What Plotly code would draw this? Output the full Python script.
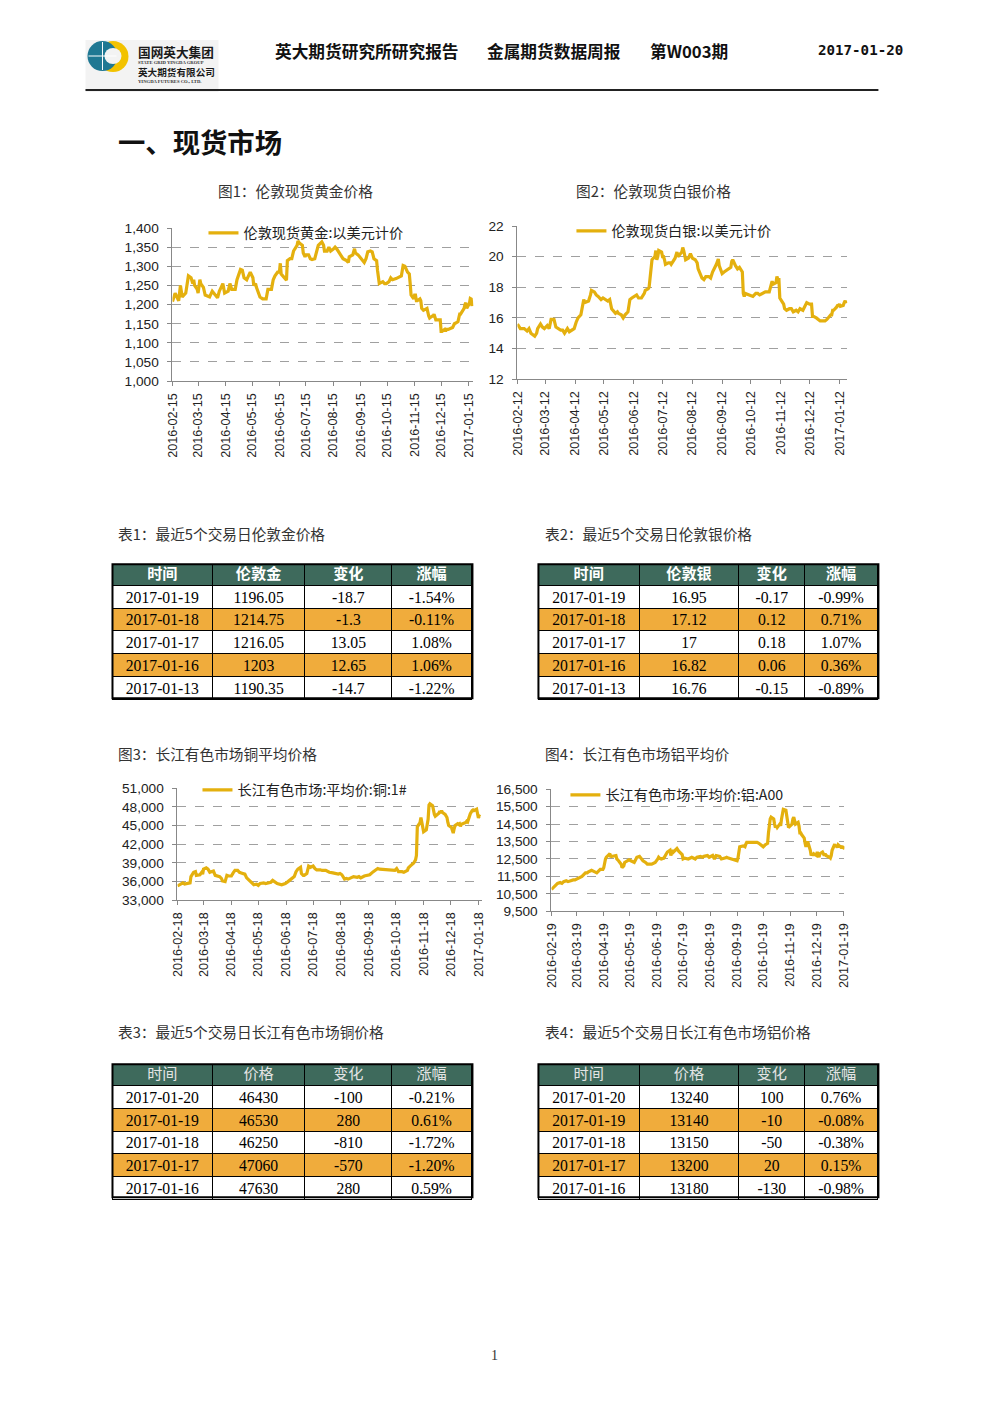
import plotly.graph_objects as go

W, H = 992, 1403

# ---------------- data ----------------
gold = [("2016-02-15",1208),("2016-02-18",1230),("2016-02-22",1210),("2016-02-24",1250),("2016-02-26",1220),
("2016-03-01",1230),("2016-03-04",1275),("2016-03-07",1270),("2016-03-09",1255),("2016-03-10",1265),("2016-03-11",1250),
("2016-03-14",1240),("2016-03-15",1230),("2016-03-17",1265),("2016-03-18",1255),("2016-03-21",1245),("2016-03-23",1225),
("2016-03-28",1220),("2016-03-31",1235),("2016-04-04",1225),("2016-04-06",1218),("2016-04-08",1235),("2016-04-12",1255),
("2016-04-14",1230),("2016-04-18",1235),("2016-04-20",1255),("2016-04-22",1240),("2016-04-26",1240),("2016-04-28",1265),
("2016-05-02",1292),("2016-05-04",1290),("2016-05-06",1270),("2016-05-09",1265),("2016-05-11",1275),("2016-05-13",1285),
("2016-05-16",1270),("2016-05-17",1250),("2016-05-19",1255),("2016-05-20",1245),("2016-05-24",1220),("2016-05-27",1215),
("2016-05-31",1215),("2016-06-02",1240),("2016-06-06",1240),("2016-06-08",1265),("2016-06-10",1275),("2016-06-13",1285),
("2016-06-15",1285),("2016-06-16",1308),("2016-06-17",1280),("2016-06-21",1270),("2016-06-23",1264),("2016-06-24",1315),
("2016-06-27",1320),("2016-06-29",1320),("2016-07-01",1340),("2016-07-05",1355),("2016-07-06",1366),("2016-07-08",1360),
("2016-07-11",1355),("2016-07-12",1335),("2016-07-14",1325),("2016-07-15",1330),("2016-07-18",1330),("2016-07-20",1320),
("2016-07-22",1318),("2016-07-25",1320),("2016-07-27",1340),("2016-07-29",1355),("2016-08-02",1364),("2016-08-04",1355),
("2016-08-05",1340),("2016-08-08",1340),("2016-08-10",1350),("2016-08-12",1340),("2016-08-15",1345),("2016-08-17",1350),
("2016-08-19",1345),("2016-08-22",1335),("2016-08-24",1330),("2016-08-26",1320),("2016-08-30",1315),("2016-09-01",1310),
("2016-09-02",1325),("2016-09-06",1330),("2016-09-08",1346),("2016-09-09",1335),("2016-09-12",1330),("2016-09-15",1320),
("2016-09-19",1310),("2016-09-21",1320),("2016-09-23",1338),("2016-09-26",1340),("2016-09-28",1338),("2016-09-30",1320),
("2016-10-03",1315),("2016-10-04",1290),("2016-10-05",1265),("2016-10-06",1255),("2016-10-10",1260),("2016-10-12",1255),
("2016-10-14",1255),("2016-10-17",1260),("2016-10-19",1270),("2016-10-21",1265),("2016-10-25",1268),("2016-10-27",1270),
("2016-10-31",1275),("2016-11-02",1302),("2016-11-04",1300),("2016-11-07",1285),("2016-11-09",1280),("2016-11-10",1255),
("2016-11-11",1225),("2016-11-14",1215),("2016-11-15",1225),("2016-11-16",1225),("2016-11-17",1210),("2016-11-18",1210),
("2016-11-21",1215),("2016-11-22",1210),("2016-11-23",1190),("2016-11-25",1185),("2016-11-28",1190),("2016-11-29",1190),
("2016-12-01",1170),("2016-12-02",1165),("2016-12-05",1170),("2016-12-06",1170),("2016-12-07",1175),("2016-12-08",1165),
("2016-12-09",1160),("2016-12-12",1160),("2016-12-14",1160),("2016-12-15",1130),("2016-12-16",1130),("2016-12-19",1135),
("2016-12-20",1130),("2016-12-21",1135),("2016-12-23",1135),("2016-12-28",1140),("2016-12-30",1150),("2017-01-03",1155),
("2017-01-04",1165),("2017-01-05",1175),("2017-01-06",1175),("2017-01-09",1185),("2017-01-10",1190),("2017-01-11",1200),
("2017-01-12",1205),("2017-01-13",1190.35),("2017-01-16",1203),("2017-01-17",1216.05),("2017-01-18",1214.75),("2017-01-19",1196.05)]

silver = [("2016-02-12",15.6),("2016-02-15",15.3),("2016-02-17",15.3),("2016-02-19",15.3),("2016-02-22",15.15),("2016-02-24",15.3),
("2016-02-26",15.0),("2016-03-01",14.8),("2016-03-03",15.0),("2016-03-04",15.3),("2016-03-07",15.6),("2016-03-09",15.4),
("2016-03-11",15.3),("2016-03-14",15.5),("2016-03-16",15.3),("2016-03-17",15.8),("2016-03-18",15.9),("2016-03-21",15.9),
("2016-03-23",15.4),("2016-03-28",15.2),("2016-03-30",15.2),("2016-04-01",15.0),("2016-04-04",15.3),("2016-04-06",15.1),
("2016-04-08",15.2),("2016-04-11",15.3),("2016-04-13",15.7),("2016-04-15",16.0),("2016-04-18",16.2),("2016-04-20",16.8),
("2016-04-21",17.2),("2016-04-22",17.0),("2016-04-26",17.1),("2016-04-28",17.5),("2016-04-29",17.8),("2016-05-02",17.7),
("2016-05-04",17.5),("2016-05-06",17.4),("2016-05-09",17.2),("2016-05-11",17.3),("2016-05-13",17.2),("2016-05-16",17.1),
("2016-05-18",17.2),("2016-05-20",16.6),("2016-05-24",16.3),("2016-05-26",16.4),("2016-05-27",16.3),("2016-05-30",16.2),
("2016-06-01",16.0),("2016-06-03",16.2),("2016-06-06",16.4),("2016-06-08",17.2),("2016-06-10",17.3),("2016-06-13",17.4),
("2016-06-15",17.5),("2016-06-17",17.3),("2016-06-20",17.3),("2016-06-22",17.5),("2016-06-23",17.6),("2016-06-24",17.8),
("2016-06-27",17.9),("2016-06-28",18.0),("2016-06-29",18.5),("2016-07-01",19.8),("2016-07-04",20.0),("2016-07-05",20.4),
("2016-07-06",19.8),("2016-07-07",20.0),("2016-07-08",20.4),("2016-07-11",20.3),("2016-07-12",20.0),("2016-07-13",20.0),
("2016-07-14",19.8),("2016-07-15",19.5),("2016-07-18",19.6),("2016-07-20",19.6),("2016-07-21",19.5),("2016-07-22",19.6),
("2016-07-25",19.9),("2016-07-27",20.3),("2016-07-28",20.0),("2016-08-01",20.3),("2016-08-02",20.6),("2016-08-03",20.4),
("2016-08-05",19.8),("2016-08-08",19.9),("2016-08-10",20.2),("2016-08-12",19.9),("2016-08-15",19.8),("2016-08-17",19.6),
("2016-08-18",19.2),("2016-08-22",18.6),("2016-08-24",18.5),("2016-08-26",18.7),("2016-08-29",18.7),("2016-08-31",18.6),
("2016-09-02",19.0),("2016-09-06",19.5),("2016-09-08",19.85),("2016-09-09",19.4),("2016-09-12",18.9),("2016-09-14",19.0),
("2016-09-16",19.1),("2016-09-19",19.2),("2016-09-21",19.3),("2016-09-22",19.7),("2016-09-23",19.8),("2016-09-26",19.4),
("2016-09-28",19.2),("2016-09-30",19.3),("2016-10-03",19.0),("2016-10-04",17.6),("2016-10-05",17.4),("2016-10-06",17.6),
("2016-10-10",17.5),("2016-10-12",17.5),("2016-10-14",17.4),("2016-10-17",17.6),("2016-10-19",17.6),("2016-10-21",17.5),
("2016-10-25",17.6),("2016-10-27",17.7),("2016-10-31",17.7),("2016-11-01",18.0),("2016-11-02",18.3),("2016-11-03",18.4),
("2016-11-04",18.2),("2016-11-07",18.3),("2016-11-08",18.7),("2016-11-09",18.5),("2016-11-10",18.6),("2016-11-11",17.3),
("2016-11-14",17.0),("2016-11-15",16.9),("2016-11-16",16.6),("2016-11-18",16.5),("2016-11-21",16.6),("2016-11-23",16.6),
("2016-11-25",16.4),("2016-11-28",16.5),("2016-11-30",16.4),("2016-12-02",16.6),("2016-12-05",16.5),("2016-12-07",16.8),
("2016-12-09",17.0),("2016-12-12",16.9),("2016-12-14",16.9),("2016-12-15",16.1),("2016-12-16",16.1),("2016-12-19",16.0),
("2016-12-21",15.9),("2016-12-23",15.8),("2016-12-28",15.8),("2016-12-30",15.9),("2017-01-03",16.2),("2017-01-04",16.2),
("2017-01-05",16.5),("2017-01-06",16.5),("2017-01-09",16.7),("2017-01-10",16.8),("2017-01-11",16.8),("2017-01-12",16.9),
("2017-01-13",16.76),("2017-01-16",16.82),("2017-01-17",17.0),("2017-01-18",17.12),("2017-01-19",16.95)]

copper = [("2016-02-18",35300),("2016-02-22",35700),("2016-02-24",35800),("2016-02-26",35600),("2016-03-01",35700),
("2016-03-03",35800),("2016-03-04",36800),("2016-03-07",37500),("2016-03-09",37600),("2016-03-10",37000),("2016-03-14",37100),
("2016-03-16",37500),("2016-03-17",37200),("2016-03-18",38000),("2016-03-21",38200),("2016-03-23",38000),("2016-03-25",37500),
("2016-03-29",37700),("2016-03-31",37000),("2016-04-05",36800),("2016-04-07",36500),("2016-04-08",36100),("2016-04-11",36000),
("2016-04-13",37000),("2016-04-15",36900),("2016-04-18",36900),("2016-04-20",37400),("2016-04-22",37800),("2016-04-25",37800),
("2016-04-27",37500),("2016-04-29",37400),("2016-05-03",37200),("2016-05-05",36600),("2016-05-09",36000),("2016-05-11",35800),
("2016-05-13",35500),("2016-05-16",35600),("2016-05-18",35400),("2016-05-20",35700),("2016-05-24",35800),("2016-05-26",35700),
("2016-05-30",35800),("2016-06-01",35900),("2016-06-03",36200),("2016-06-06",35800),("2016-06-08",35700),("2016-06-13",35500),
("2016-06-15",35600),("2016-06-17",35700),("2016-06-20",36000),("2016-06-22",36200),("2016-06-24",36500),("2016-06-27",36800),
("2016-06-29",37600),("2016-07-01",38000),("2016-07-04",38300),("2016-07-05",37300),("2016-07-07",37000),("2016-07-08",37000),
("2016-07-11",37300),("2016-07-12",38200),("2016-07-13",38500),("2016-07-15",38300),("2016-07-18",38500),("2016-07-20",38100),
("2016-07-22",37900),("2016-07-26",37900),("2016-07-28",37800),("2016-08-01",37800),("2016-08-03",37600),("2016-08-05",37500),
("2016-08-09",37400),("2016-08-11",37300),("2016-08-15",37200),("2016-08-17",37300),("2016-08-19",37100),("2016-08-22",36400),
("2016-08-24",36500),("2016-08-26",36400),("2016-08-30",36700),("2016-09-01",36800),("2016-09-05",36700),("2016-09-07",36800),
("2016-09-09",36600),("2016-09-13",36900),("2016-09-19",37100),("2016-09-21",37400),("2016-09-23",37600),("2016-09-26",37900),
("2016-09-28",38100),("2016-09-30",38000),("2016-10-10",37900),("2016-10-12",37800),("2016-10-14",37800),("2016-10-17",37800),
("2016-10-19",38100),("2016-10-21",37600),("2016-10-25",37600),("2016-10-27",37500),("2016-10-31",37800),("2016-11-01",38200),
("2016-11-03",38500),("2016-11-07",39000),("2016-11-09",39500),("2016-11-10",40200),("2016-11-11",44800),("2016-11-14",45500),
("2016-11-15",46300),("2016-11-16",45500),("2016-11-17",44200),("2016-11-18",44000),("2016-11-21",44300),("2016-11-22",45500),
("2016-11-23",46000),("2016-11-24",48300),("2016-11-25",48500),("2016-11-28",48200),("2016-11-29",47000),("2016-11-30",46800),
("2016-12-01",46500),("2016-12-02",46600),("2016-12-05",47000),("2016-12-06",47300),("2016-12-07",47000),("2016-12-08",47400),
("2016-12-09",47100),("2016-12-12",46800),("2016-12-13",46500),("2016-12-14",46300),("2016-12-15",45500),("2016-12-16",45000),
("2016-12-19",44700),("2016-12-20",44300),("2016-12-21",43800),("2016-12-22",44500),("2016-12-23",45000),("2016-12-26",45300),
("2016-12-27",45200),("2016-12-28",45300),("2016-12-29",44900),("2016-12-30",45200),("2017-01-03",45400),("2017-01-04",45500),
("2017-01-05",45700),("2017-01-06",45600),("2017-01-09",46900),("2017-01-10",47300),("2017-01-11",47400),("2017-01-12",47500),
("2017-01-13",47400),("2017-01-16",47630),("2017-01-17",47060),("2017-01-18",46250),("2017-01-19",46530),("2017-01-20",46430)]

aluminum = [("2016-02-19",10750),("2016-02-22",10900),("2016-02-24",11000),("2016-02-26",11100),("2016-02-29",11150),
("2016-03-02",11100),("2016-03-04",11200),("2016-03-07",11250),("2016-03-09",11200),("2016-03-11",11250),("2016-03-15",11300),
("2016-03-17",11300),("2016-03-21",11400),("2016-03-23",11450),("2016-03-25",11500),("2016-03-29",11700),("2016-03-31",11700),
("2016-04-01",11750),("2016-04-05",11850),("2016-04-07",11800),("2016-04-11",11700),("2016-04-13",11800),("2016-04-15",11900),
("2016-04-18",11900),("2016-04-19",12000),("2016-04-21",12500),("2016-04-22",12600),("2016-04-25",12750),("2016-04-26",12800),
("2016-04-27",12600),("2016-04-28",12650),("2016-05-03",12700),("2016-05-04",12500),("2016-05-06",12400),("2016-05-09",12200),
("2016-05-10",12000),("2016-05-12",12100),("2016-05-13",12300),("2016-05-16",12400),("2016-05-18",12450),("2016-05-20",12400),
("2016-05-24",12300),("2016-05-26",12500),("2016-05-27",12600),("2016-05-30",12650),("2016-06-01",12500),("2016-06-03",12400),
("2016-06-06",12300),("2016-06-08",12200),("2016-06-13",12200),("2016-06-15",12250),("2016-06-17",12300),("2016-06-20",12500),
("2016-06-21",12600),("2016-06-22",12550),("2016-06-24",12500),("2016-06-27",12550),("2016-06-29",12700),("2016-07-01",12900),
("2016-07-04",13000),("2016-07-05",12700),("2016-07-06",12900),("2016-07-07",13000),("2016-07-08",12900),("2016-07-11",13050),
("2016-07-12",13100),("2016-07-14",12950),("2016-07-15",12900),("2016-07-18",12750),("2016-07-19",12500),("2016-07-21",12550),
("2016-07-25",12500),("2016-07-27",12550),("2016-07-29",12600),("2016-08-02",12500),("2016-08-04",12600),("2016-08-08",12650),
("2016-08-10",12600),("2016-08-12",12650),("2016-08-16",12700),("2016-08-18",12600),("2016-08-22",12700),("2016-08-24",12500),
("2016-08-26",12700),("2016-08-30",12650),("2016-09-01",12500),("2016-09-05",12550),("2016-09-07",12600),("2016-09-09",12550),
("2016-09-13",12500),("2016-09-19",12400),("2016-09-20",12550),("2016-09-21",12800),("2016-09-22",13200),("2016-09-26",13250),
("2016-09-28",13200),("2016-09-29",13350),("2016-09-30",13450),("2016-10-10",13450),("2016-10-12",13450),("2016-10-14",13400),
("2016-10-17",13300),("2016-10-19",13200),("2016-10-21",13300),("2016-10-24",13400),("2016-10-25",14000),("2016-10-26",14600),
("2016-10-27",14800),("2016-10-28",14900),("2016-10-31",14800),("2016-11-01",14500),("2016-11-02",14300),("2016-11-03",14400),
("2016-11-04",14300),("2016-11-07",14500),("2016-11-08",14400),("2016-11-09",14800),("2016-11-10",15200),("2016-11-11",15350),
("2016-11-14",15300),("2016-11-15",14900),("2016-11-16",14400),("2016-11-17",14300),("2016-11-18",14350),("2016-11-21",14500),
("2016-11-22",14800),("2016-11-23",14900),("2016-11-24",14700),("2016-11-25",14500),("2016-11-28",14600),("2016-11-29",14400),
("2016-11-30",14000),("2016-12-01",14000),("2016-12-02",13900),("2016-12-05",13700),("2016-12-06",13400),("2016-12-07",13200),
("2016-12-08",13400),("2016-12-09",13500),("2016-12-12",13000),("2016-12-13",12700),("2016-12-14",12800),("2016-12-15",12700),
("2016-12-16",12800),("2016-12-19",12700),("2016-12-20",12900),("2016-12-21",12700),("2016-12-22",12600),("2016-12-23",12800),
("2016-12-26",12900),("2016-12-27",12800),("2016-12-28",12700),("2016-12-29",12800),("2016-12-30",12700),("2017-01-03",12600),
("2017-01-04",12550),("2017-01-05",12700),("2017-01-06",13000),("2017-01-09",13350),("2017-01-10",13200),("2017-01-11",13300),
("2017-01-12",13150),("2017-01-13",13310),("2017-01-16",13180),("2017-01-17",13200),("2017-01-18",13150),("2017-01-19",13140),
("2017-01-20",13240)]

tick_months = ["2016-02","2016-03","2016-04","2016-05","2016-06","2016-07","2016-08",
               "2016-09","2016-10","2016-11","2016-12","2017-01"]

series_names = ["伦敦现货黄金:以美元计价", "伦敦现货白银:以美元计价",
                "长江有色市场:平均价:铜:1#", "长江有色市场:平均价:铝:A00"]

t1_head = ["时间", "伦敦金", "变化", "涨幅"]
t1_date = ["2017-01-19", "2017-01-18", "2017-01-17", "2017-01-16", "2017-01-13"]
t1_price = ["1196.05", "1214.75", "1216.05", "1203", "1190.35"]
t1_chg = ["-18.7", "-1.3", "13.05", "12.65", "-14.7"]
t1_pct = ["-1.54%", "-0.11%", "1.08%", "1.06%", "-1.22%"]

t2_head = ["时间", "伦敦银", "变化", "涨幅"]
t2_date = ["2017-01-19", "2017-01-18", "2017-01-17", "2017-01-16", "2017-01-13"]
t2_price = ["16.95", "17.12", "17", "16.82", "16.76"]
t2_chg = ["-0.17", "0.12", "0.18", "0.06", "-0.15"]
t2_pct = ["-0.99%", "0.71%", "1.07%", "0.36%", "-0.89%"]

t3_head = ["时间", "价格", "变化", "涨幅"]
t3_date = ["2017-01-20", "2017-01-19", "2017-01-18", "2017-01-17", "2017-01-16"]
t3_price = ["46430", "46530", "46250", "47060", "47630"]
t3_chg = ["-100", "280", "-810", "-570", "280"]
t3_pct = ["-0.21%", "0.61%", "-1.72%", "-1.20%", "0.59%"]

t4_head = ["时间", "价格", "变化", "涨幅"]
t4_date = ["2017-01-20", "2017-01-19", "2017-01-18", "2017-01-17", "2017-01-16"]
t4_price = ["13240", "13140", "13150", "13200", "13180"]
t4_chg = ["100", "-10", "-50", "20", "-130"]
t4_pct = ["0.76%", "-0.08%", "-0.38%", "0.15%", "-0.98%"]

# ---------------- helpers ----------------
# the photographed page is slightly scaled/offset; compensate so targets land right
SX, OX = 0.987, 6.5
SY, OY = 0.989, 7.0
FS = 1 / 0.988

def px(x):
    return ((x - OX) / SX) / W

def py(y):
    return 1 - ((y - OY) / SY) / H

def f(s):
    return round(s * FS, 2)

LINE = "#E4B00E"
CJK = "Noto Sans CJK SC"
NUM = "Liberation Sans"
SERIF = "Liberation Serif"
CLEAR = "rgba(0,0,0,0)"

fig = go.Figure()

charts = [
    dict(data=gold, day="15", xp=(172, 473), yp=(228, 381), yr=(1000, 1400), dt=50, xend="2017-01-20 14:00", lg=(203, 233)),
    dict(data=silver, day="12", xp=(517, 847), yp=(226, 379), yr=(12, 22), dt=2, xend="2017-01-20 08:00", lg=(571, 231)),
    dict(data=copper, day="18", xp=(177, 482), yp=(788, 900), yr=(33000, 51000), dt=3000, xend="2017-01-22 12:00", lg=(197, 790)),
    dict(data=aluminum, day="19", xp=(551, 844), yp=(789, 911), yr=(9500, 16500), dt=1000, xend="2017-01-20 03:00", lg=(565, 795)),
]

for i, c in enumerate(charts):
    n = "" if i == 0 else str(i + 1)
    dates = [d for d, v in c["data"]]
    vals = [v for d, v in c["data"]]
    fig.add_trace(go.Scatter(
        x=dates, y=vals, mode="lines", name=series_names[i],
        line=dict(color=LINE, width=3.2), xaxis="x" + n, yaxis="y" + n,
        legend="legend" + n, showlegend=True, hoverinfo="skip"))
    ticks = [m + "-" + c["day"] for m in tick_months]
    fig.update_layout(**{
        "xaxis" + n: dict(
            domain=[px(c["xp"][0]), px(c["xp"][1])], anchor="y" + n, type="date",
            range=[dates[0], c["xend"]], tickvals=ticks, tickformat="%Y-%m-%d",
            tickangle=-90, ticks="outside", ticklen=4, tickcolor="#888",
            showline=True, linecolor="#888", linewidth=1, showgrid=False,
            ticklabelstandoff=2,
            tickfont=dict(family=NUM, size=f(12.5), color="#222")),
        "yaxis" + n: dict(
            domain=[py(c["yp"][1]), py(c["yp"][0])], anchor="x" + n,
            range=list(c["yr"]), dtick=c["dt"], tick0=c["yr"][0], tickformat=",d",
            ticks="outside", ticklen=4, tickcolor="#888",
            showline=True, linecolor="#888", linewidth=1,
            showgrid=True, gridcolor="#a0a0a0", griddash="dash", gridwidth=1,
            ticklabelstandoff=6,
            zeroline=False, tickfont=dict(family=NUM, size=f(13.5), color="#222")),
        "legend" + n: dict(
            x=px(c["lg"][0]), y=py(c["lg"][1]), xanchor="left", yanchor="middle",
            bgcolor="rgba(0,0,0,0)", borderwidth=0,
            font=dict(family=CJK, size=f(14), color="#222"),
            itemwidth=30, tracegroupgap=0),
    })

# ---------------- tables ----------------
ORANGE = "#F0AC3C"
GREEN = "#3E6A5C"
row_fill = ["white", ORANGE, "white", ORANGE, "white"]
HEAD_H, ROW_H = 21, 22.5
HEAD_UP, CELL_UP = 4.5, 2.5   # lift text to centre it vertically

tables = [
    (t1_head, [t1_date, t1_price, t1_chg, t1_pct], (112, 472), (564, 698), True),
    (t2_head, [t2_date, t2_price, t2_chg, t2_pct], (538, 878), (564, 698), True),
    (t3_head, [t3_date, t3_price, t3_chg, t3_pct], (112, 472), (1064, 1197), False),
    (t4_head, [t4_date, t4_price, t4_chg, t4_pct], (538, 878), (1064, 1197), False),
]
for head, cols, xr, yr, bold in tables:
    if bold:
        hfont = dict(family=CJK, size=f(15), color="white", weight="bold")
    else:
        hfont = dict(family=CJK, size=f(15), color="#e4e4e4")
    cfont = dict(family=SERIF, size=f(15.5), color="black")
    if xr[0] < 300:
        cw = [100, 93, 87, 80]
    else:
        cw = [101, 100, 66, 73]
    # fills and rules only (blank cells of the same shape)
    fig.add_trace(go.Table(
        domain=dict(x=[px(xr[0]), px(xr[1])], y=[py(yr[1] + 8), py(yr[0])]),
        columnwidth=cw,
        header=dict(values=["" for _ in head], fill_color=GREEN, height=HEAD_H / SY,
                    font=hfont, line=dict(color="black", width=1)),
        cells=dict(values=[["" for _ in col] for col in cols], fill_color=[row_fill] * 4,
                   height=ROW_H / SY, font=cfont, line=dict(color="black", width=1)),
    ))
    # text layer, lifted slightly so the labels sit centred in their rows
    fig.add_trace(go.Table(
        domain=dict(x=[px(xr[0]), px(xr[1])], y=[py(yr[1] + 8), py(yr[0] - HEAD_UP)]),
        columnwidth=cw,
        header=dict(values=head, fill_color=CLEAR, align="center",
                    height=(HEAD_H + HEAD_UP - CELL_UP) / SY,
                    font=hfont, line=dict(color=CLEAR, width=0)),
        cells=dict(values=cols, fill_color=CLEAR, align="center", height=ROW_H / SY,
                   font=cfont, line=dict(color=CLEAR, width=0)),
    ))

shapes = []
for head, cols, xr, yr, bold in tables:
    shapes.append(dict(type="rect", xref="paper", yref="paper",
                       x0=px(xr[0]), x1=px(xr[1]), y0=py(yr[1]), y1=py(yr[0]),
                       line=dict(color="black", width=2)))

# header rule and logo
shapes.append(dict(type="line", xref="paper", yref="paper", x0=px(85), x1=px(878),
                   y0=py(90), y1=py(90), line=dict(color="#222", width=2)))
shapes.append(dict(type="rect", xref="paper", yref="paper", x0=px(85), x1=px(218),
                   y0=py(92), y1=py(40), line=dict(width=0), fillcolor="#f3f3f3", layer="below"))
shapes.append(dict(type="circle", xref="paper", yref="paper", x0=px(97), x1=px(128),
                   y0=py(72), y1=py(41), line=dict(width=0), fillcolor="#F2C200"))
shapes.append(dict(type="circle", xref="paper", yref="paper", x0=px(87), x1=px(117),
                   y0=py(71), y1=py(41), line=dict(width=0), fillcolor="#1F7893"))
shapes.append(dict(type="circle", xref="paper", yref="paper", x0=px(104), x1=px(121),
                   y0=py(64), y1=py(48), line=dict(width=0), fillcolor="#f3f3f3"))
shapes.append(dict(type="line", xref="paper", yref="paper", x0=px(88), x1=px(116),
                   y0=py(56), y1=py(56), line=dict(color="white", width=1)))
shapes.append(dict(type="line", xref="paper", yref="paper", x0=px(102), x1=px(102),
                   y0=py(42), y1=py(70), line=dict(color="white", width=1)))

ann = []
def text(x, y, s, size, color="#222", family=CJK, anchor="left", bold=False):
    if bold:
        s = "<b>" + s + "</b>"
    ann.append(dict(x=px(x), y=py(y), xref="paper", yref="paper", text=s, showarrow=False,
                    xanchor=anchor, yanchor="middle",
                    font=dict(family=family, size=f(size), color=color)))

text(136, 51, "国网英大集团", 12.5, "#1a1a1a", bold=True)
text(136, 62, "STATE GRID YINGDA GROUP", 4.6, "#333", family="Liberation Serif", bold=True)
text(136, 72, "英大期货有限公司", 9.5, "#1a1a1a", bold=True)
text(136, 81, "YINGDA FUTURES CO., LTD.", 4.6, "#333", family="Liberation Serif", bold=True)

text(273, 51, "英大期货研究所研究报告", 16.5, "#111", bold=True)
text(485, 51, "金属期货数据周报", 16.5, "#111", bold=True)
text(648, 51, "第W003期", 16.5, "#111", bold=True)
text(905, 50, "2017-01-20", 14, "#111", family="DejaVu Sans Mono", anchor="right", bold=True)

text(116, 141, "一、现货市场", 27, "#111", bold=True)

text(216, 190, "图1：伦敦现货黄金价格", 14.5, "#333")
text(574, 190, "图2：伦敦现货白银价格", 14.5, "#333")
text(116, 533, "表1：最近5个交易日伦敦金价格", 14.5, "#333")
text(543, 533, "表2：最近5个交易日伦敦银价格", 14.5, "#333")
text(116, 753, "图3：长江有色市场铜平均价格", 14.5, "#333")
text(543, 753, "图4：长江有色市场铝平均价", 14.5, "#333")
text(116, 1031, "表3：最近5个交易日长江有色市场铜价格", 14.5, "#333")
text(543, 1031, "表4：最近5个交易日长江有色市场铝价格", 14.5, "#333")
text(494, 1355, "1", 14, "#333", family=SERIF, anchor="center")

fig.update_layout(
    width=W, height=H, margin=dict(l=0, r=0, t=0, b=0),
    paper_bgcolor="white", plot_bgcolor="white",
    shapes=shapes, annotations=ann, hovermode=False,
)

fig.write_html("out.html", config={"displayModeBar": False})

# remove default page margins so the figure sits exactly in the window
with open("out.html", "r", encoding="utf-8") as fh:
    html = fh.read()
html = html.replace("<head>", "<head><style>html,body{margin:0;padding:0;overflow:hidden;}</style>", 1)
with open("out.html", "w", encoding="utf-8") as fh:
    fh.write(html)
